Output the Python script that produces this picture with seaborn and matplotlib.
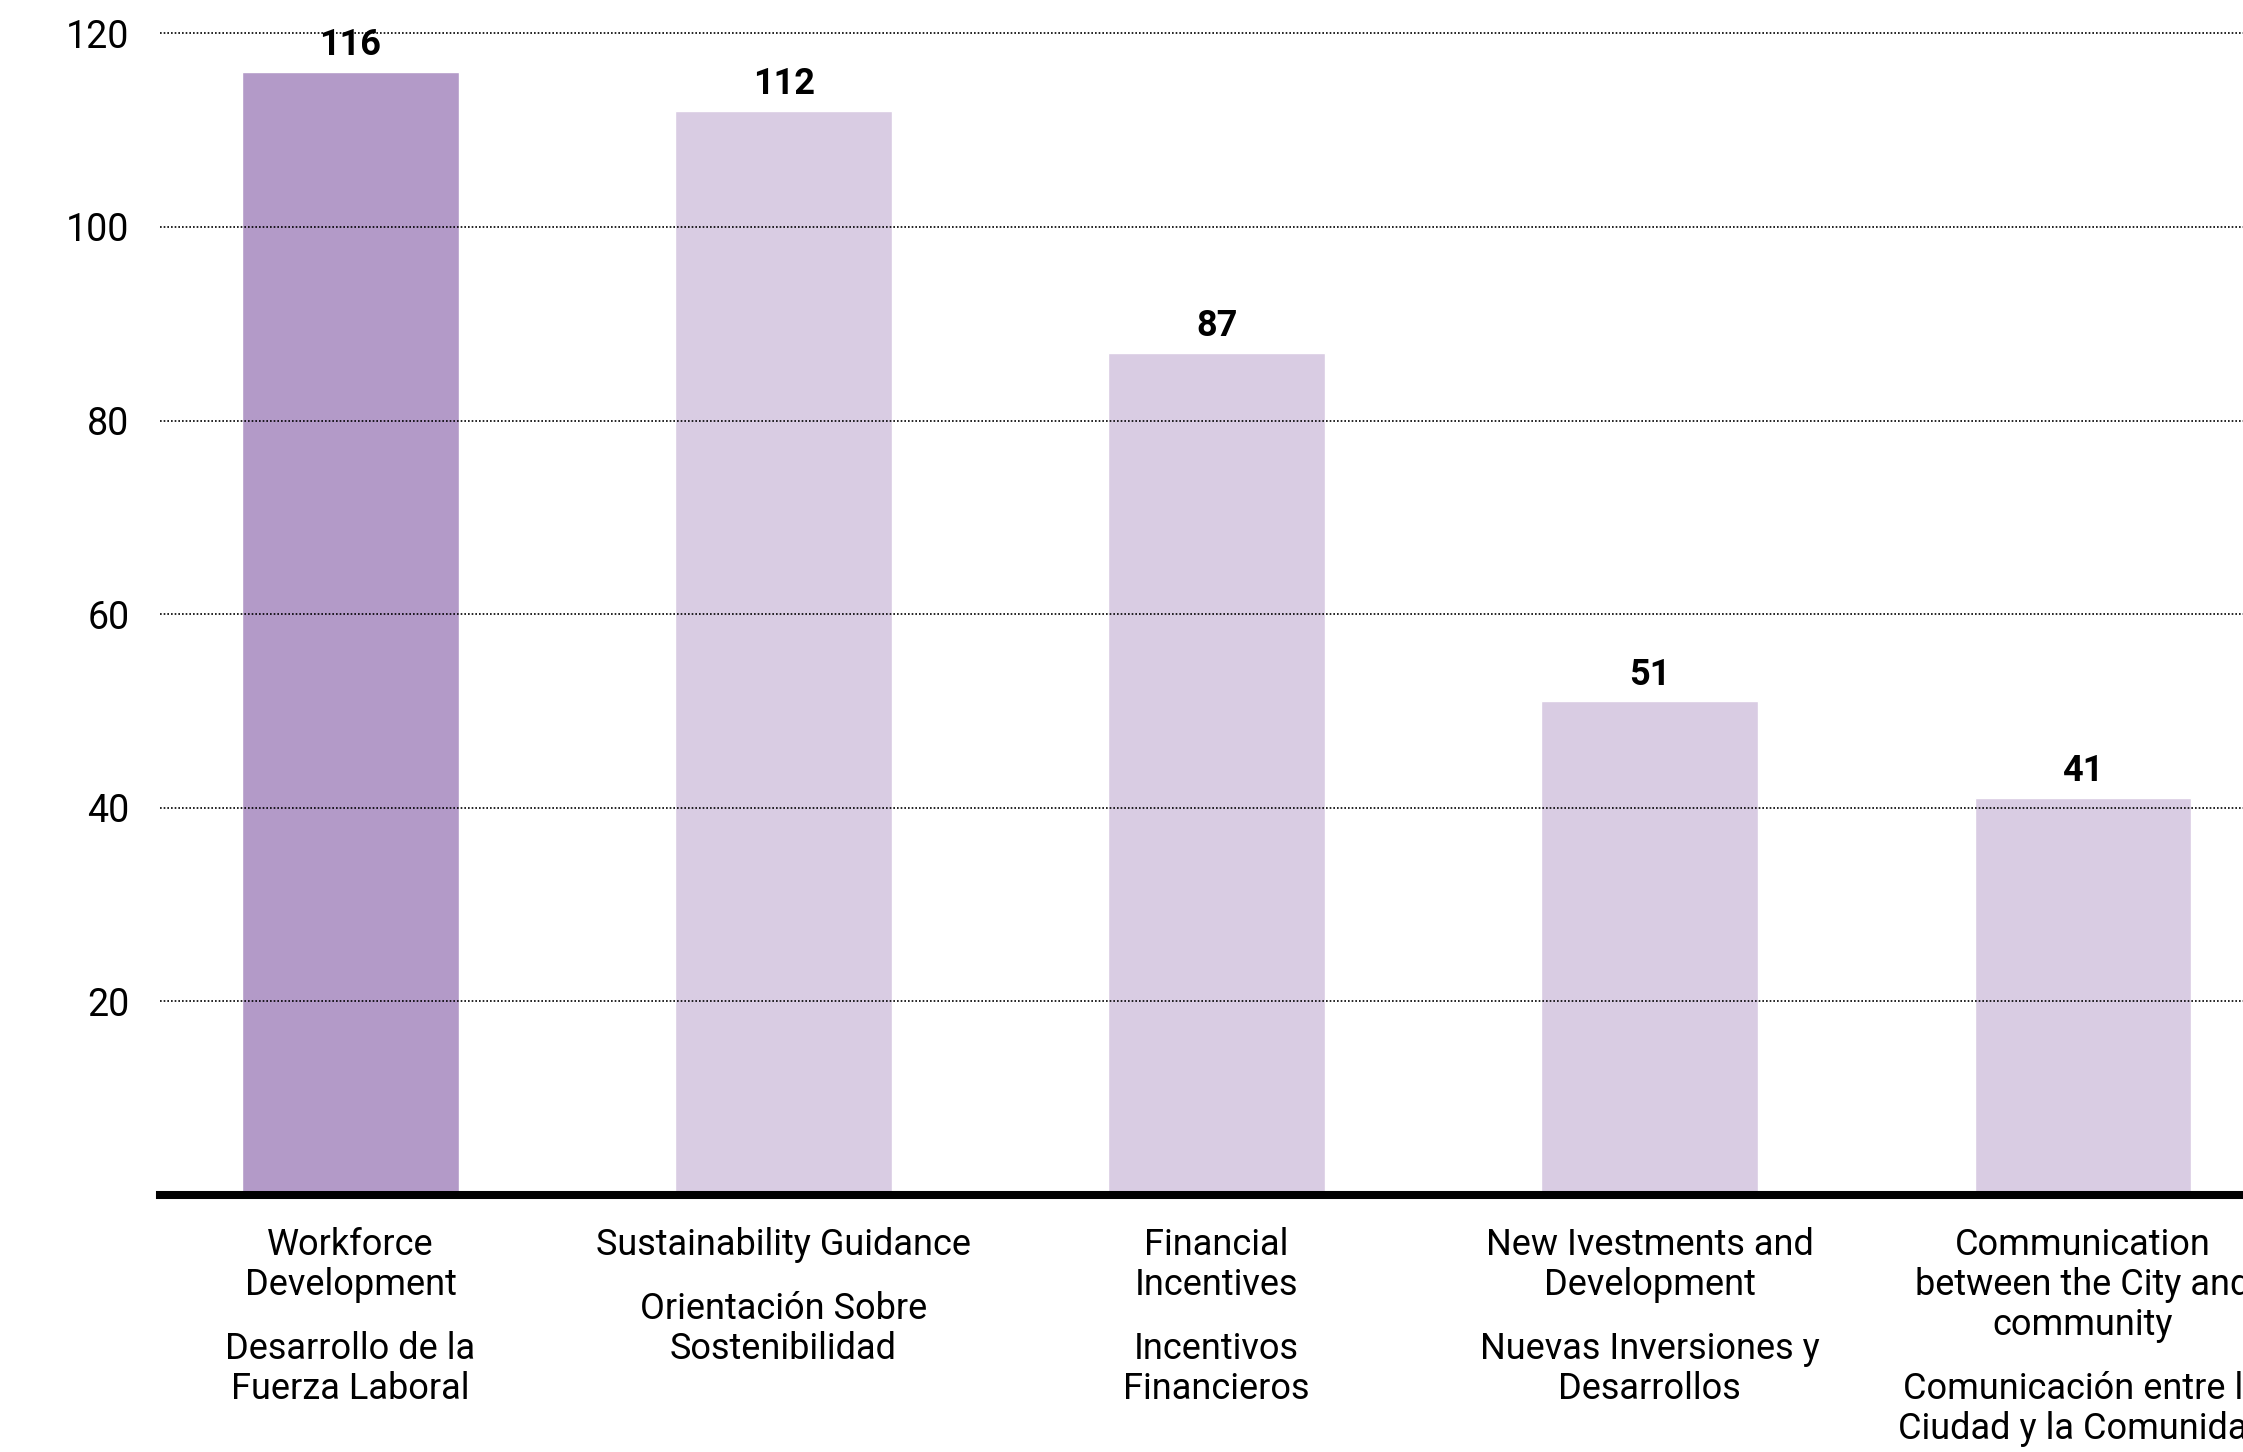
import matplotlib
matplotlib.use('Agg')
import matplotlib.pyplot as plt
import seaborn as sns
import pandas as pd

# =========================
# DATA
# =========================

categories_en = [
    'Workforce\nDevelopment',
    'Sustainability Guidance',
    'Financial\nIncentives',
    'New Ivestments and\nDevelopment',
    'Communication\nbetween the City and\ncommunity',
]

categories_es = [
    'Desarrollo de la\nFuerza Laboral',
    'Orientación Sobre\nSostenibilidad',
    'Incentivos\nFinancieros',
    'Nuevas Inversiones y\nDesarrollos',
    'Comunicación entre la\nCiudad y la Comunidad',
]

values = [116, 112, 87, 51, 41]
bar_colors = ['#b39ac8', '#d9cce3', '#d9cce3', '#d9cce3', '#d9cce3']
y_ticks = [20, 40, 60, 80, 100, 120]

df = pd.DataFrame({
    'category': [c.replace('\n', ' ') for c in categories_en],
    'value': values,
})

# =========================
# STYLE
# =========================

sns.set_theme(style='white')
plt.rcParams['font.family'] = ['Roboto', 'DejaVu Sans']

W, H = 2243, 1452
fig = plt.figure(figsize=(W / 100, H / 100), dpi=100)
ax_bottom = 1195
ax_top = 14
ax_left = 160
ax = fig.add_axes([ax_left / W, (H - ax_bottom) / H, 1 - ax_left / W, (ax_bottom - ax_top) / H])

sns.barplot(
    data=df, x='category', y='value', hue='category',
    palette=bar_colors, width=0.5, legend=False, ax=ax,
    saturation=1, zorder=1,
)

ax.set_xlim(-0.44, 4.37)
ax.set_ylim(0, 122)
ax.set_yticks(y_ticks)
ax.set_yticklabels([str(t) for t in y_ticks], fontsize=27, color='black')
ax.tick_params(axis='y', length=0, pad=22)
ax.set_xticks([])
ax.set_xlabel('')
ax.set_ylabel('')

# dotted grid drawn over the bars
ax.set_axisbelow(False)
ax.yaxis.grid(True, color='black', linestyle=(0, (1, 1.2)), linewidth=1.2)
ax.xaxis.grid(False)

for side in ['left', 'right', 'top']:
    ax.spines[side].set_visible(False)
ax.spines['bottom'].set_color('black')
ax.spines['bottom'].set_linewidth(5.8)
ax.spines['bottom'].set_zorder(5)

# value labels
for i, v in enumerate(values):
    ax.annotate(
        f'{v}', (i, v), xytext=(0, 12), textcoords='offset points',
        ha='center', va='baseline', fontsize=26, fontweight='bold',
        color='black',
    )

# category labels (English block, then Spanish block)
PX = 0.72  # points per pixel at dpi 100
first_baseline = 60
line_step = 40
block_gap = 24
for i, (en, es) in enumerate(zip(categories_en, categories_es)):
    y_px = first_baseline
    for line in en.split('\n'):
        ax.annotate(line, (i, 0), xycoords=('data', 'axes fraction'),
                    xytext=(0, -y_px * PX), textcoords='offset points',
                    ha='center', va='baseline', fontsize=26,
                    color='black', annotation_clip=False)
        y_px += line_step
    y_px += block_gap
    for line in es.split('\n'):
        ax.annotate(line, (i, 0), xycoords=('data', 'axes fraction'),
                    xytext=(0, -y_px * PX), textcoords='offset points',
                    ha='center', va='baseline', fontsize=26,
                    color='black', annotation_clip=False)
        y_px += line_step

fig.savefig('out.png', dpi=100)
plt.close(fig)
